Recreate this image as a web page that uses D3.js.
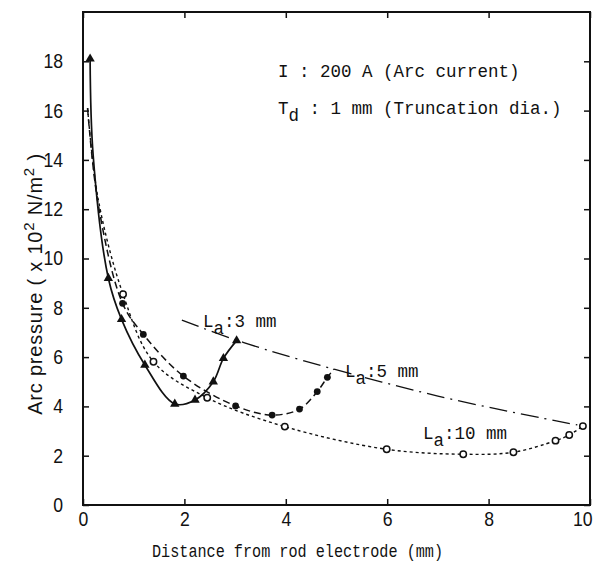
<!DOCTYPE html>
<html>
<head>
<meta charset="utf-8">
<script src="https://cdn.jsdelivr.net/npm/d3@7"></script>
<style>
  body { margin: 0; background: #fff; }
  svg { display: block; }
</style>
</head>
<body>
<div id="chart"></div>
<script>
// tick values
const xTicks = [0, 2, 4, 6, 8, 10];
const yTicks = [0, 2, 4, 6, 8, 10, 12, 14, 16, 18];

// La : 3 mm  (solid line, filled triangles)
const la3X = [0.14, 0.5, 0.76, 1.22, 1.81, 2.21, 2.57, 2.77, 3.03];
const la3Y = [18.1, 9.2, 7.53, 5.68, 4.10, 4.26, 5.0, 5.95, 6.67];
const la3CurveX = [0.14, 0.2, 0.5, 0.76, 1.22, 1.81, 2.21, 2.57, 2.77, 3.03];
const la3CurveY = [18.1, 14.2, 9.2, 7.53, 5.68, 4.10, 4.26, 5.0, 5.95, 6.67];

// La : 5 mm  (dashed line, filled circles)
const la5X = [0.78, 1.19, 1.98, 3.01, 3.73, 4.27, 4.62, 4.82];
const la5Y = [8.18, 6.92, 5.23, 4.02, 3.65, 3.89, 4.6, 5.18];
const la5CurveX = [0.09, 0.3, 0.78, 1.19, 1.98, 3.01, 3.73, 4.27, 4.62, 4.82, 4.95];
const la5CurveY = [16.1, 12.2, 8.18, 6.92, 5.23, 4.02, 3.65, 3.89, 4.6, 5.18, 5.52];

// La : 10 mm  (dotted line, open circles)
const la10X = [0.79, 1.39, 2.45, 3.98, 5.99, 7.5, 8.49, 9.32, 9.59, 9.86];
const la10Y = [8.55, 5.81, 4.35, 3.18, 2.26, 2.06, 2.14, 2.61, 2.84, 3.2];
const la10CurveX = [0.09, 0.3, 0.79, 1.39, 2.45, 3.98, 5.99, 7.5, 8.49, 9.32, 9.59, 9.86];
const la10CurveY = [16.1, 12.4, 8.55, 5.81, 4.35, 3.18, 2.26, 2.06, 2.14, 2.61, 2.84, 3.2];

// chain line through the ends of the curves
const envX = [1.95, 2.98, 4.31, 7.0, 9.31, 9.75];
const envY = [7.5, 6.72, 5.88, 4.42, 3.42, 3.25];

const width = 601, height = 566;
const svg = d3.select("#chart").append("svg")
  .attr("width", width)
  .attr("height", height);

const x = d3.scaleLinear().domain([0, 10]).range([83, 590]);
const y = d3.scaleLinear().domain([0, 20]).range([505, 12]);

const tickFont = "'Liberation Sans', Arial, sans-serif";
const monoFont = "'Liberation Mono', 'DejaVu Sans Mono', monospace";
const ink = "#111";

// axes (ticks point inward)
const gx = svg.append("g")
  .attr("transform", `translate(0,${y(0)})`)
  .call(d3.axisBottom(x).tickValues(xTicks).tickSize(-6).tickSizeOuter(0).tickPadding(7));
gx.selectAll("text").filter(d => d === 10).attr("text-anchor", "end").attr("dx", "0.1em");

const gy = svg.append("g")
  .attr("transform", `translate(${x(0)},0)`)
  .call(d3.axisLeft(y).tickValues(yTicks).tickSize(-6).tickSizeOuter(0).tickPadding(20));

const gt = svg.append("g")
  .attr("transform", `translate(0,${y(20)})`)
  .call(d3.axisTop(x).tickValues(xTicks).tickSize(-6).tickSizeOuter(0).tickFormat(""));

const gr = svg.append("g")
  .attr("transform", `translate(${x(10)},0)`)
  .call(d3.axisRight(y).tickValues(yTicks).tickSize(-6).tickSizeOuter(0).tickFormat(""));

[gx, gy, gt, gr].forEach(g => {
  g.select(".domain").remove();
  g.selectAll("line").attr("stroke", ink).attr("stroke-width", 1.5);
  g.selectAll("text")
    .style("font-family", tickFont)
    .style("font-size", "20px")
    .attr("fill", ink)
    .attr("textLength", d => String(d).length * 9.8)
    .attr("lengthAdjust", "spacingAndGlyphs");
});

// frame
svg.append("rect")
  .attr("x", x(0)).attr("y", y(20))
  .attr("width", x(10) - x(0)).attr("height", y(0) - y(20))
  .attr("fill", "none").attr("stroke", ink).attr("stroke-width", 2);

const zip = (xs, ys) => xs.map((v, i) => [v, ys[i]]);
const line = d3.line().x(d => x(d[0])).y(d => y(d[1])).curve(d3.curveCatmullRom.alpha(0.5));

// chain line
svg.append("path")
  .attr("d", line(zip(envX, envY)))
  .attr("fill", "none").attr("stroke", ink).attr("stroke-width", 1.3)
  .attr("stroke-dasharray", "18,6,2,6");

// curves
svg.append("path")
  .attr("d", line(zip(la10CurveX, la10CurveY)))
  .attr("fill", "none").attr("stroke", ink).attr("stroke-width", 1.4)
  .attr("stroke-dasharray", "3,3");

svg.append("path")
  .attr("d", line(zip(la5CurveX, la5CurveY)))
  .attr("fill", "none").attr("stroke", ink).attr("stroke-width", 1.5)
  .attr("stroke-dasharray", "7,4");

svg.append("path")
  .attr("d", line(zip(la3CurveX, la3CurveY)))
  .attr("fill", "none").attr("stroke", ink).attr("stroke-width", 1.7);

// markers
svg.selectAll(".tri")
  .data(zip(la3X, la3Y))
  .enter().append("path")
  .attr("class", "tri")
  .attr("transform", d => `translate(${x(d[0])},${y(d[1])})`)
  .attr("d", d3.symbol(d3.symbolTriangle).size(38))
  .attr("fill", ink);

svg.selectAll(".dot5")
  .data(zip(la5X, la5Y))
  .enter().append("circle")
  .attr("class", "dot5")
  .attr("cx", d => x(d[0])).attr("cy", d => y(d[1]))
  .attr("r", 3.4)
  .attr("fill", ink);

svg.selectAll(".dot10")
  .data(zip(la10X, la10Y))
  .enter().append("circle")
  .attr("class", "dot10")
  .attr("cx", d => x(d[0])).attr("cy", d => y(d[1]))
  .attr("r", 3.2)
  .attr("fill", "#fff").attr("stroke", ink).attr("stroke-width", 1.5);

// text helpers
function subText(px, py, main, sub, rest) {
  const t = svg.append("text")
    .attr("x", px).attr("y", py)
    .style("font-family", monoFont)
    .style("font-size", "17.5px")
    .attr("fill", ink);
  t.append("tspan").text(main);
  t.append("tspan").attr("dy", 7).text(sub);
  t.append("tspan").attr("dy", -7).text(rest);
  return t;
}

svg.append("text")
  .attr("x", 278).attr("y", 77)
  .style("font-family", monoFont)
  .style("font-size", "17.5px")
  .attr("fill", ink)
  .text("I : 200 A (Arc current)");

subText(278, 114, "T", "d", " : 1 mm (Truncation dia.)");
subText(203, 327, "L", "a", ":3 mm");
subText(345, 377, "L", "a", ":5 mm");
subText(423, 439, "L", "a", ":10 mm");

// axis titles
svg.append("text")
  .attr("x", 152).attr("y", 557)
  .style("font-family", monoFont)
  .style("font-size", "18px")
  .attr("textLength", 291)
  .attr("lengthAdjust", "spacingAndGlyphs")
  .attr("fill", ink)
  .text("Distance from rod electrode (mm)");

const yl = svg.append("text")
  .attr("transform", "translate(42,284) rotate(-90)")
  .attr("text-anchor", "middle")
  .style("font-family", tickFont)
  .style("font-size", "20px")
  .style("letter-spacing", "0.8px")
  .attr("fill", ink);
yl.append("tspan").text("Arc pressure ( x 10");
yl.append("tspan").attr("dy", -8).style("font-size", "15px").text("2");
yl.append("tspan").attr("dy", 8).text(" N/m");
yl.append("tspan").attr("dy", -8).style("font-size", "15px").text("2");
yl.append("tspan").attr("dy", 8).text(" )");
</script>
</body>
</html>
